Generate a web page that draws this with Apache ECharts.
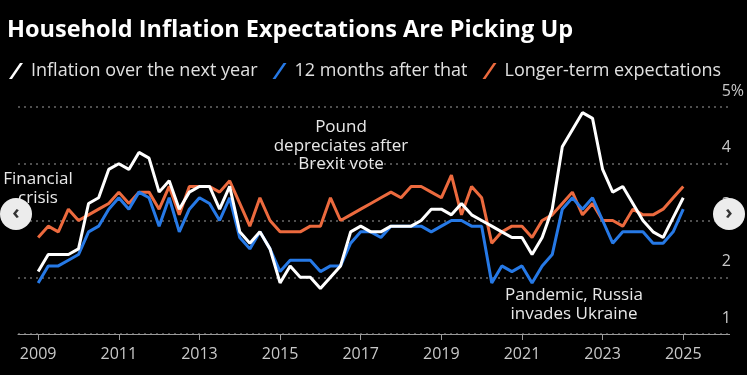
<!DOCTYPE html>
<html>
<head>
<meta charset="utf-8">
<script src="https://cdn.jsdelivr.net/npm/echarts@6/dist/echarts.min.js"></script>
<style>
  html, body { margin: 0; padding: 0; background: #000; }
  #chart { width: 747px; height: 375px; }
</style>
</head>
<body>
<div id="chart"></div>
<script>
// quarterly survey, 2009 Q1 .. 2025 Q1
const startYear = 2009
const yearTicks = [2009, 2011, 2013, 2015, 2017, 2019, 2021, 2023, 2025]

const nextYear = [
  2.1, 2.4, 2.4, 2.4, 2.5, 3.3, 3.4, 3.9, 4.0, 3.9, 4.2, 4.1, 3.5, 3.7, 3.2, 3.5,
  3.6, 3.6, 3.2, 3.6, 2.8, 2.6, 2.8, 2.5, 1.9, 2.2, 2.0, 2.0, 1.8, 2.0, 2.2, 2.8,
  2.9, 2.8, 2.8, 2.9, 2.9, 2.9, 3.0, 3.2, 3.2, 3.1, 3.3, 3.1, 3.0, 2.9, 2.8, 2.7,
  2.7, 2.4, 2.7, 3.2, 4.3, 4.6, 4.9, 4.8, 3.9, 3.5, 3.6, 3.3, 3.0, 2.8, 2.7, 3.05,
  3.4
]
const monthsAfter = [
  1.9, 2.2, 2.2, 2.3, 2.4, 2.8, 2.9, 3.2, 3.4, 3.2, 3.5, 3.4, 2.9, 3.4, 2.8, 3.2,
  3.4, 3.3, 3.0, 3.4, 2.7, 2.5, 2.8, 2.5, 2.1, 2.3, 2.3, 2.3, 2.1, 2.2, 2.2, 2.6,
  2.8, 2.8, 2.7, 2.9, 2.9, 2.9, 2.9, 2.8, 2.9, 3.0, 3.0, 2.9, 2.9, 1.9, 2.2, 2.1,
  2.2, 1.9, 2.2, 2.4, 3.2, 3.4, 3.2, 3.4, 3.0, 2.6, 2.8, 2.8, 2.8, 2.6, 2.6, 2.8,
  3.2
]
const longerTerm = [
  2.7, 2.9, 2.8, 3.2, 3.0, 3.1, 3.2, 3.3, 3.5, 3.3, 3.5, 3.5, 3.2, 3.6, 3.1, 3.6,
  3.6, 3.6, 3.5, 3.7, 3.3, 2.9, 3.4, 3.0, 2.8, 2.8, 2.8, 2.9, 2.9, 3.4, 3.0, 3.1,
  3.2, 3.3, 3.4, 3.5, 3.4, 3.6, 3.6, 3.5, 3.4, 3.8, 3.1, 3.6, 3.4, 2.6, 2.8, 2.9,
  2.9, 2.7, 3.0, 3.1, 3.3, 3.5, 3.1, 3.3, 3.0, 3.0, 2.9, 3.2, 3.1, 3.1, 3.2, 3.4,
  3.6
]

const names = ['Inflation over the next year', '12 months after that', 'Longer-term expectations']
const colors = ['#ffffff', '#2679e6', '#ec6a3e']

const toPoints = arr => arr.map((v, i) => [startYear + i / 4, v])
const slash = 'path://M0,16 L11,0 L14,0 L3,16 Z'
const font = '"Open Sans", "Noto Sans", sans-serif'

const chart = echarts.init(document.getElementById('chart'))
chart.setOption({
  backgroundColor: '#000',
  animation: false,
  title: {
    text: 'Household Inflation Expectations Are Picking Up',
    left: 2,
    top: 13,
    textStyle: { color: '#fff', fontSize: 23.5, fontWeight: 'bold', fontFamily: font }
  },
  legend: {
    data: names,
    left: 4,
    top: 57,
    itemWidth: 14,
    itemHeight: 16,
    itemGap: 15,
    icon: slash,
    textStyle: { color: '#e0e0e0', fontSize: 18, fontFamily: font, padding: [0, 0, 0, 3] }
  },
  grid: { left: 18, right: 15, top: 107, bottom: 41 },
  xAxis: {
    type: 'value',
    min: 2008.5,
    max: 2026.15,
    splitLine: { show: false },
    axisLine: { lineStyle: { color: '#9a9a9a', width: 1 } },
    axisTick: { show: true, length: 6, customValues: yearTicks, lineStyle: { color: '#9a9a9a' } },
    axisLabel: {
      customValues: yearTicks,
      color: '#c8c8c8',
      fontSize: 16,
      fontFamily: font,
      margin: 12,
      formatter: v => String(v)
    }
  },
  yAxis: {
    type: 'value',
    position: 'right',
    min: 1,
    max: 5,
    interval: 1,
    axisLine: { show: false },
    axisTick: { show: false },
    splitLine: { lineStyle: { color: '#6a6a6a', type: [2, 4], width: 1.5 } },
    axisLabel: {
      color: '#c8c8c8',
      fontSize: 16,
      fontFamily: font,
      margin: -8,
      align: 'left',
      verticalAlign: 'bottom',
      padding: [0, 0, 8, 0],
      formatter: v => (v === 5 ? '5%' : String(v))
    }
  },
  series: [
    { name: names[2], type: 'line', data: toPoints(longerTerm), color: colors[2], showSymbol: false, lineStyle: { width: 3 } },
    { name: names[1], type: 'line', data: toPoints(monthsAfter), color: colors[1], showSymbol: false, lineStyle: { width: 3 } },
    { name: names[0], type: 'line', data: toPoints(nextYear), color: colors[0], showSymbol: false, lineStyle: { width: 3 } }
  ],
  graphic: [
    {
      type: 'text', x: 38, y: 170, z: 10,
      style: { text: 'Financial\ncrisis', fill: '#e8e8e8', font: '17px ' + font, align: 'center', lineHeight: 19 }
    },
    {
      type: 'text', x: 341, y: 118, z: 10,
      style: { text: 'Pound\ndepreciates after\nBrexit vote', fill: '#e8e8e8', font: '17px ' + font, align: 'center', lineHeight: 18.5 }
    },
    {
      type: 'text', x: 574, y: 286, z: 10,
      style: { text: 'Pandemic, Russia\ninvades Ukraine', fill: '#e8e8e8', font: '17px ' + font, align: 'center', lineHeight: 19 }
    },
    { type: 'circle', shape: { cx: 16, cy: 214, r: 16 }, style: { fill: '#ececec' }, z: 20 },
    { type: 'text', x: 16, y: 213, z: 21, style: { text: '‹', fill: '#333', font: 'bold 20px ' + font, align: 'center', verticalAlign: 'middle' } },
    { type: 'circle', shape: { cx: 729, cy: 214, r: 16 }, style: { fill: '#ececec' }, z: 20 },
    { type: 'text', x: 729, y: 213, z: 21, style: { text: '›', fill: '#333', font: 'bold 20px ' + font, align: 'center', verticalAlign: 'middle' } }
  ]
})
window.onresize = () => {
  chart.resize()
}
</script>
</body>
</html>
